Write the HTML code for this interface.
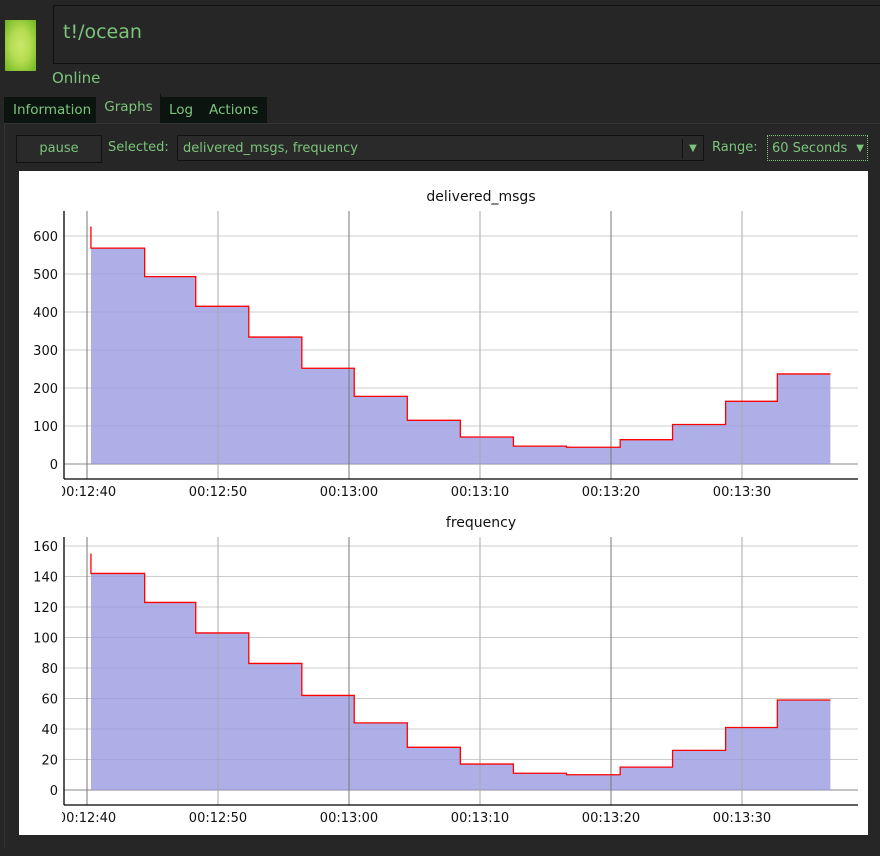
<!DOCTYPE html>
<html><head><meta charset="utf-8"><style>
body{margin:0;width:880px;height:856px;background:#262626;font-family:"DejaVu Sans","Liberation Sans",sans-serif;overflow:hidden;position:relative;color:#7cc47c}
.abs{position:absolute}
</style></head><body>
<div class="abs" style="left:5px;top:20px;width:31px;height:51px;background:radial-gradient(ellipse at center,#c9e86a 0%,#b4dc50 45%,#6cb420 100%)"></div>
<div class="abs" style="left:53px;top:5px;width:830px;height:57px;border-left:1px solid #111;border-top:1px solid #111;border-bottom:1px solid #111;background:#262626"></div>
<div class="abs" style="left:63px;top:21px;font-size:19px;color:#7cc47c">t!/ocean</div>
<div class="abs" style="left:52px;top:69px;font-size:15px">Online</div>
<div class="abs" style="left:4px;top:96px;font-size:13.5px">
<div class="abs" style="left:0;top:1px;width:92px;height:26px;background:#0c1410;line-height:26px;padding-left:9px;box-sizing:border-box">Information</div>
<div class="abs" style="left:93px;top:-2px;width:63px;height:29px;background:#262626;line-height:26px;text-align:center;border-right:1px solid #111">Graphs</div>
<div class="abs" style="left:157px;top:1px;width:40px;height:26px;background:#0c1410;line-height:26px;padding-left:8px;box-sizing:border-box">Log</div>
<div class="abs" style="left:197px;top:1px;width:66px;height:26px;background:#0c1410;line-height:26px;padding-left:8px;box-sizing:border-box">Actions</div>
</div>
<div class="abs" style="left:4px;top:123px;width:880px;height:724px;border-top:1px solid #333;border-left:1px solid #333;background:#262626"></div>
<div class="abs" style="left:16px;top:135px;width:84px;height:26px;border:1px solid #111;background:#2a2a2a;font-size:13px;line-height:26px;text-align:center">pause</div>
<div class="abs" style="left:108px;top:140px;font-size:13px">Selected:</div>
<div class="abs" style="left:177px;top:135px;width:527px;height:26px;border:1px solid #111;background:#2a2a2a;font-size:13px;line-height:26px;padding-left:5px;box-sizing:border-box">delivered_msgs, frequency<span style="position:absolute;right:0;top:3px;width:20px;height:20px;border-left:1px solid #111;font-size:10px;text-align:center;line-height:20px">▼</span></div>
<div class="abs" style="left:712px;top:140px;font-size:13px">Range:</div>
<div class="abs" style="left:767px;top:135px;width:101px;height:26px;border:1px dotted #7cc47c;background:#2a2a2a;font-size:13px;line-height:26px;padding-left:4px;box-sizing:border-box">60 Seconds<span style="position:absolute;right:3px;top:0;font-size:10px">▼</span></div>
<svg class="abs" style="left:19px;top:171px" width="849" height="664"></svg>
<script>
const times=[0.3,4.4,8.3,12.35,16.4,20.4,24.45,28.5,32.55,36.6,40.7,44.7,48.75,52.7,56.75];
const deliveredValues=[568,493,415,334,252,178,115,71,47,44,64,104,165,237];
const frequencyValues=[142,123,103,83,62,44,28,17,11,10,15,26,41,59];
const deliveredSpike=625, frequencySpike=155;
const tickLabels=["00:12:40","00:12:50","00:13:00","00:13:10","00:13:20","00:13:30"];
const deliveredTicks=[0,100,200,300,400,500,600];
const frequencyTicks=[0,20,40,60,80,100,120,140,160];
const svg=document.querySelector('svg');const NS="http://www.w3.org/2000/svg";
const ox=19,oy=171;
function el(t,a,txt,parent){const e=document.createElementNS(NS,t);for(const k in a)e.setAttribute(k,a[k]);if(txt!=null)e.textContent=txt;(parent||svg).appendChild(e);return e;}
svg.innerHTML='<defs><clipPath id="xclip"><rect x="43" y="0" width="806" height="664"/></clipPath></defs><rect width="849" height="664" fill="#fff"/>';
function chart(name,title,vals,spike,ticks,cfg){
 const x=t=>87-ox+t*13.1;
 const y=v=>cfg.y0-oy-v*cfg.k;
 const L=64-ox,R=858-ox,top=cfg.top-oy,axY=cfg.ax-oy;
 let t1=el('text',{x:(L+R)/2+20,y:cfg.ty-oy,'text-anchor':'middle','font-size':14,fill:'#111'},title);
 
 ticks.forEach(v=>{let g=el('line',{x1:L,x2:R,y1:y(v),y2:y(v),stroke:v===0?'#888':'#ccc','stroke-width':1});
  
  let tl=el('text',{x:L-6,y:y(v)+5,'text-anchor':'end','font-size':13,fill:'#111'},v);
  });
 let d=`M${x(times[0])},${y(0)}`;
 vals.forEach((v,i)=>{d+=` L${x(times[i])},${y(v)} L${x(times[i+1])},${y(v)}`;});
 d+=` L${x(times[times.length-1])},${y(0)}Z`;
 let a=el('path',{d,fill:'#9898e0','fill-opacity':0.78});
 
 const g2=el('g',{'clip-path':'url(#xclip)'});
 tickLabels.forEach((lb,i)=>{let g=el('line',{x1:x(i*10),x2:x(i*10),y1:top,y2:axY,stroke:i%2?'#aaa':'#777','stroke-width':1});
  
  let tl=el('text',{x:x(i*10),y:axY+17,'text-anchor':'middle','font-size':13,fill:'#111'},lb,g2);
  });
 let ld=`M${x(times[0])},${y(spike)} L${x(times[0])},${y(vals[0])}`;
 vals.forEach((v,i)=>{if(i>0)ld+=` L${x(times[i])},${y(v)}`;ld+=` L${x(times[i+1])},${y(v)}`;});
 let ln=el('path',{d:ld,fill:'none',stroke:'#f00','stroke-width':1.3});
 
 let ya=el('line',{x1:L,x2:L,y1:top,y2:axY,stroke:'#000','stroke-width':1.3});
 
 let xa=el('line',{x1:L,x2:R,y1:axY,y2:axY,stroke:'#000','stroke-width':1.3});
 
}
chart('delivered-msgs','delivered_msgs',deliveredValues,deliveredSpike,deliveredTicks,{y0:464,k:0.38,top:211,ax:479,ty:201});
chart('frequency','frequency',frequencyValues,frequencySpike,frequencyTicks,{y0:790,k:1.525,top:537,ax:805,ty:527});
</script>
</body></html>
